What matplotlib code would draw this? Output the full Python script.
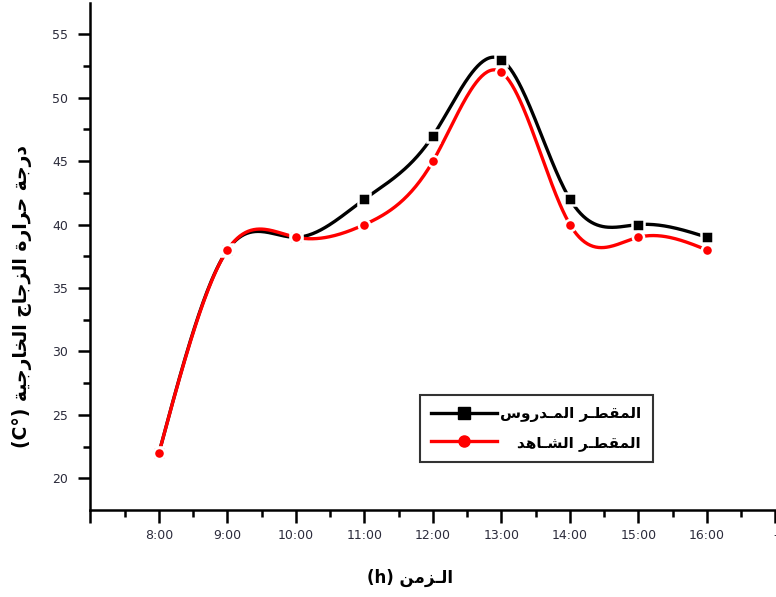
import numpy as np
import matplotlib.pyplot as plt
from matplotlib.lines import Line2D

hours = [8, 9, 10, 11, 12, 13, 14, 15, 16]
tick_hours = [7, 8, 9, 10, 11, 12, 13, 14, 15, 16, 17]
tick_labels = ['', '8:00', '9:00', '10:00', '11:00', '12:00', '13:00',
               '14:00', '15:00', '16:00', '-']
studied = [22, 38, 39, 42, 47, 53, 42, 40, 39]
control = [22, 38, 39, 40, 45, 52, 40, 39, 38]

label_studied = 'المقطـر المـدروس'
label_control = 'المقطـر الشـاهد'
xlabel_ar = 'الـزمن'
ylabel_ar = 'درجة حرارة الزجاج الخارجية'

# minimal arabic shaping (matplotlib has no bidi / joining support)
FORMS = {
    'ا': (0xFE8D, 0xFE8E, None, None), 'ة': (0xFE93, 0xFE94, None, None),
    'د': (0xFEA9, 0xFEAA, None, None), 'ر': (0xFEAD, 0xFEAE, None, None),
    'ز': (0xFEAF, 0xFEB0, None, None), 'و': (0xFEED, 0xFEEE, None, None),
    'ج': (0xFE9D, 0xFE9E, 0xFE9F, 0xFEA0), 'ح': (0xFEA1, 0xFEA2, 0xFEA3, 0xFEA4),
    'خ': (0xFEA5, 0xFEA6, 0xFEA7, 0xFEA8), 'س': (0xFEB1, 0xFEB2, 0xFEB3, 0xFEB4),
    'ش': (0xFEB5, 0xFEB6, 0xFEB7, 0xFEB8), 'ط': (0xFEC1, 0xFEC2, 0xFEC3, 0xFEC4),
    'ق': (0xFED5, 0xFED6, 0xFED7, 0xFED8), 'ل': (0xFEDD, 0xFEDE, 0xFEDF, 0xFEE0),
    'م': (0xFEE1, 0xFEE2, 0xFEE3, 0xFEE4), 'ن': (0xFEE5, 0xFEE6, 0xFEE7, 0xFEE8),
    'ه': (0xFEE9, 0xFEEA, 0xFEEB, 0xFEEC), 'ي': (0xFEF1, 0xFEF2, 0xFEF3, 0xFEF4),
}
TATWEEL = 'ـ'


def dual(c):
    return c == TATWEEL or (c in FORMS and FORMS[c][2] is not None)


def joins(c):
    return c == TATWEEL or c in FORMS


def shape(text):
    out = []
    for i, c in enumerate(text):
        if c not in FORMS:
            out.append(c)
            continue
        prev = text[i - 1] if i > 0 else ' '
        nxt = text[i + 1] if i < len(text) - 1 else ' '
        jp = dual(prev)
        jn = dual(c) and joins(nxt)
        iso, fin, ini, med = FORMS[c]
        if jp and jn:
            code = med
        elif jp:
            code = fin
        elif jn:
            code = ini
        else:
            code = iso
        out.append(chr(code))
    return ''.join(out)[::-1]


def spline(x, y, n=400):
    # natural cubic spline, for the smooth connecting line
    x = np.asarray(x, float)
    y = np.asarray(y, float)
    k = len(x)
    h = np.diff(x)
    A = np.zeros((k, k))
    b = np.zeros(k)
    A[0, 0] = A[-1, -1] = 1
    for i in range(1, k - 1):
        A[i, i - 1] = h[i - 1]
        A[i, i] = 2 * (h[i - 1] + h[i])
        A[i, i + 1] = h[i]
        b[i] = 6 * ((y[i + 1] - y[i]) / h[i] - (y[i] - y[i - 1]) / h[i - 1])
    M = np.linalg.solve(A, b)
    xs = np.linspace(x[0], x[-1], n)
    idx = np.clip(np.searchsorted(x, xs) - 1, 0, k - 2)
    x0, x1 = x[idx], x[idx + 1]
    hh = x1 - x0
    ys = (M[idx] * (x1 - xs) ** 3 / (6 * hh) + M[idx + 1] * (xs - x0) ** 3 / (6 * hh)
          + (y[idx] / hh - M[idx] * hh / 6) * (x1 - xs)
          + (y[idx + 1] / hh - M[idx + 1] * hh / 6) * (xs - x0))
    return xs, ys


plt.rcParams['font.family'] = ['DejaVu Sans']

fig = plt.figure(figsize=(7.76, 5.97), dpi=100)
ax = fig.add_axes([0.1166, 0.1457, 0.8827, 0.850])

for vals, color, marker in [(studied, 'black', 's'), (control, 'red', 'o')]:
    xs, ys = spline(hours, vals)
    ax.plot(xs, ys, color=color, linewidth=2.4, solid_capstyle='butt', zorder=2)
    ax.plot(hours, vals, linestyle='none', marker=marker, markersize=8,
            markerfacecolor=color, markeredgecolor='white', markeredgewidth=1.8, zorder=3)

ax.set_xlim(7, 17)
ax.set_ylim(17.5, 57.5)
ax.set_xticks(tick_hours)
ax.set_xticklabels(tick_labels)
ax.set_xticks(np.arange(7.5, 17, 1), minor=True)
ax.set_yticks(np.arange(20, 56, 5))
ax.set_yticks(np.arange(22.5, 57.5, 5), minor=True)

for s in ['top', 'right']:
    ax.spines[s].set_visible(False)
for s in ['left', 'bottom']:
    ax.spines[s].set_linewidth(1.8)

ax.tick_params(which='major', direction='out', length=9, width=1.8,
               labelsize=9, labelcolor='#2b2b3b')
ax.tick_params(axis='x', which='major', pad=5)
ax.tick_params(axis='y', which='major', pad=7)
ax.tick_params(which='minor', direction='out', length=5, width=1.8)

fig.text(410 / 776, 1 - 578 / 597, '(h) ' + shape(xlabel_ar), fontsize=12,
         fontweight='bold', ha='center', va='center')
fig.text(22 / 776, 1 - 297 / 597, '(C°) ' + shape(ylabel_ar), fontsize=13.5,
         fontweight='bold', ha='center', va='center', rotation=90)

handles = [
    Line2D([], [], color='black', linewidth=2.4, marker='s', markersize=8),
    Line2D([], [], color='red', linewidth=2.4, marker='o', markersize=8),
]
leg = ax.legend(handles, [shape(label_studied), shape(label_control)],
                loc='upper left', bbox_to_anchor=(420 / 776, 1 - 395 / 597),
                bbox_transform=fig.transFigure, borderaxespad=0,
                fancybox=False, edgecolor='black', handlelength=4.3,
                handletextpad=0.2, borderpad=0.75, labelspacing=0.8,
                prop={'weight': 'bold', 'size': 11})
leg.get_frame().set_linewidth(1.5)

# right-align the legend labels, as arabic text is
texts = leg.get_texts()
for _ in range(3):
    fig.canvas.draw()
    rights = [t.get_window_extent().x1 for t in texts]
    for t, r in zip(texts, rights):
        t.set_x(t.get_position()[0] + (max(rights) - r) * 72 / fig.dpi)

fig.savefig('out.png', dpi=100)
